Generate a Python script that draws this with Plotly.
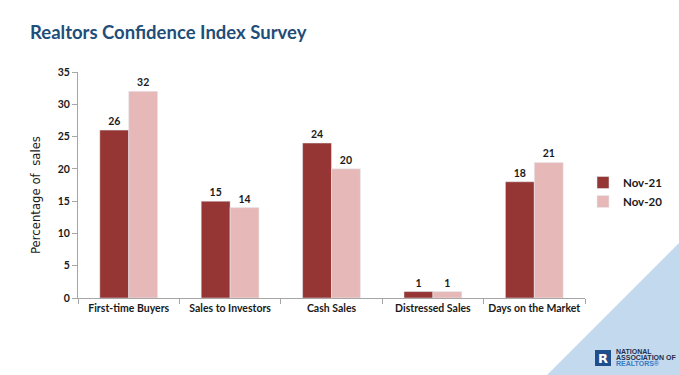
import plotly.graph_objects as go

categories = ["First-time Buyers", "Sales to Investors", "Cash Sales", "Distressed Sales", "Days on the Market"]
nov21 = [26, 15, 24, 1, 18]
nov20 = [32, 14, 20, 1, 21]
series_names = ["Nov-21", "Nov-20"]
y_ticks = [0, 5, 10, 15, 20, 25, 30, 35]

FONT = "Lato, Open Sans, sans-serif"
C21 = "#963634"
C20 = "#E6B9B8"
TXT = "#1A1A1A"

fig = go.Figure()
for vals, name, col in [(nov21, series_names[0], C21), (nov20, series_names[1], C20)]:
    fig.add_trace(go.Bar(x=categories, y=vals, name=name, marker_color=col,
                         text=vals, textposition="outside", cliponaxis=False,
                         textfont=dict(family=FONT, size=10.5, color=TXT, weight="bold")))

W, H = 679, 375
pl, pr, pt, pb = 78, 94, 72, 77
pw, ph = W - pl - pr, H - pt - pb
def px(x): return (x - pl) / pw
def py(y): return (H - pb - y) / ph

fig.update_layout(
    width=W, height=H,
    margin=dict(l=pl, r=pr, t=pt, b=pb, autoexpand=False),
    paper_bgcolor="white", plot_bgcolor="white",
    barmode="group", bargap=0.43, bargroupgap=0,
    font=dict(family=FONT, size=11, color=TXT),
    showlegend=True,
    legend=dict(x=px(583), y=py(192), xanchor="left", yanchor="middle",
                font=dict(family=FONT, size=11.5, color=TXT, weight="bold"),
                itemwidth=30, tracegroupgap=0, bgcolor="rgba(0,0,0,0)"),
    xaxis=dict(showline=True, linecolor="#A6A6A6", linewidth=1, automargin=False,
               ticks="outside", tickson="boundaries", ticklen=5, tickcolor="#A6A6A6",
               tickangle=0,
               tickfont=dict(family=FONT, size=10.5, color=TXT, weight="bold"),
               showgrid=False, fixedrange=True),
    yaxis=dict(range=[0, 35], tickvals=y_ticks, showline=True, linecolor="#A6A6A6", linewidth=1,
               automargin=False,
               ticks="outside", ticklen=5, tickcolor="#A6A6A6", showgrid=False, zeroline=False,
               tickfont=dict(family=FONT, size=10.5, color=TXT, weight="bold")),
)

fig.add_annotation(xref="paper", yref="paper", x=px(35), y=py(195), textangle=-90,
                   xanchor="center", yanchor="middle",
                   text="Percentage of  sales", showarrow=False,
                   font=dict(family="Liberation Sans Narrow, DejaVu Sans Condensed, sans-serif",
                             size=13, color=TXT))

# decorative triangle in bottom-right
fig.add_shape(type="path", xref="paper", yref="paper", layer="below",
              path=f"M {px(679)} {py(243)} L {px(679)} {py(375)} L {px(547)} {py(375)} Z",
              fillcolor="#C3DAEE", line=dict(width=0))
# logo
fig.add_shape(type="rect", xref="paper", yref="paper",
              x0=px(595), x1=px(611), y0=py(366), y1=py(350),
              fillcolor="#1F4E8C", line=dict(width=0))
fig.add_annotation(xref="paper", yref="paper", x=px(603), y=py(358), text="<b>R</b>",
                   xanchor="center", yanchor="middle", borderpad=0,
                   showarrow=False, font=dict(family="DejaVu Sans", size=13, color="white"))
for txt, yy, col in [("NATIONAL", 351.5, "#1F2F4F"), ("ASSOCIATION OF", 357.5, "#1F2F4F"),
                     ("REALTORS®", 363.5, "#3A78C2")]:
    fig.add_annotation(xref="paper", yref="paper", x=px(615), y=py(yy), xanchor="left", yanchor="middle",
                       text=f"<b>{txt}</b>", showarrow=False, borderpad=0,
                       font=dict(family="Liberation Sans, sans-serif", size=7, color=col))

fig.add_annotation(xref="paper", yref="paper", x=px(28), y=py(32), xanchor="left", yanchor="middle",
                   text="<b>Realtors Confidence Index Survey</b>", showarrow=False,
                   font=dict(family=FONT, size=18.5, color="#1F4E79"))

fig.write_html("out.html", config={"displayModeBar": False},
               post_script="document.body.style.margin='0';document.body.style.overflow='hidden';")
